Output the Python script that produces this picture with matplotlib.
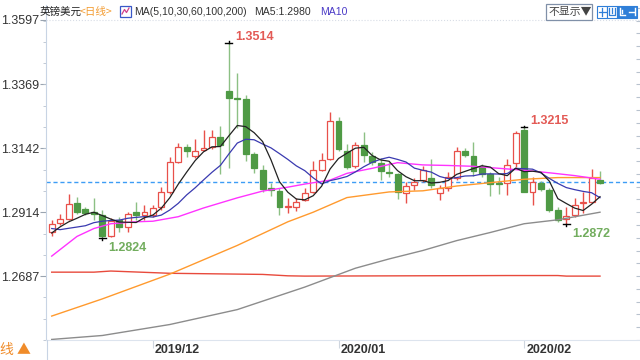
import pandas as pd
import matplotlib
matplotlib.use('Agg')
import matplotlib.pyplot as plt
from matplotlib.patches import Rectangle
from matplotlib.lines import Line2D

plt.rcParams['font.family'] = ['Liberation Sans', 'Noto Sans CJK SC', 'DejaVu Sans']

# GBP/USD daily candles, 2019-11-14 .. 2020-02-14 (no candle on 1 Jan)
dates = pd.bdate_range('2019-11-14', '2020-02-14').drop(pd.Timestamp('2020-01-01'))

opens = [1.2842, 1.2877, 1.2891, 1.2947, 1.2926, 1.2916, 1.2905, 1.2829, 1.2885, 1.2862,
         1.2913, 1.2905, 1.2904, 1.2933, 1.2987, 1.3093, 1.3145, 1.3113, 1.3135, 1.3147,
         1.3182, 1.3346, 1.3320, 1.3315, 1.3119, 1.3065, 1.2999, 1.2988, 1.2931, 1.2934,
         1.2957, 1.2987, 1.3063, 1.3104, 1.3239, 1.3133, 1.3077, 1.3152, 1.3112, 1.3089,
         1.3054, 1.3049, 1.2983, 1.3009, 1.3028, 1.3034, 1.2983, 1.2999, 1.3034, 1.3131,
         1.3112, 1.3075, 1.3049, 1.3016, 1.3016, 1.3089, 1.3205, 1.2987, 1.3018, 1.2993,
         1.2922, 1.2890, 1.2905, 1.2946, 1.2952, 1.3030]
highs = [1.2885, 1.2907, 1.2978, 1.2968, 1.2933, 1.2965, 1.2922, 1.2893, 1.2898, 1.2915,
         1.2950, 1.2939, 1.2940, 1.3003, 1.3110, 1.3159, 1.3157, 1.3173, 1.3206, 1.3206,
         1.3222, 1.3514, 1.3407, 1.3330, 1.3127, 1.3080, 1.3019, 1.2999, 1.2966, 1.2964,
         1.2999, 1.3097, 1.3125, 1.3270, 1.3253, 1.3158, 1.3163, 1.3199, 1.3127, 1.3106,
         1.3092, 1.3052, 1.3023, 1.3034, 1.3077, 1.3104, 1.3010, 1.3056, 1.3146, 1.3143,
         1.3162, 1.3086, 1.3057, 1.3040, 1.3102, 1.3203, 1.3215, 1.3039, 1.3025, 1.3000,
         1.2934, 1.2934, 1.2963, 1.2986, 1.3066, 1.3059]
lows = [1.2829, 1.2867, 1.2885, 1.2909, 1.2905, 1.2887, 1.2824, 1.2826, 1.2842, 1.2842,
        1.2887, 1.2887, 1.2897, 1.2922, 1.2980, 1.3088, 1.3110, 1.3107, 1.3132, 1.3140,
        1.3049, 1.3070, 1.3214, 1.3096, 1.3054, 1.2986, 1.2971, 1.2905, 1.2910, 1.2917,
        1.2955, 1.2981, 1.3059, 1.3098, 1.3133, 1.3066, 1.3070, 1.3092, 1.3080, 1.3029,
        1.3040, 1.2961, 1.2948, 1.2993, 1.3021, 1.2999, 1.2957, 1.2991, 1.3030, 1.3109,
        1.3042, 1.3040, 1.2970, 1.2980, 1.2975, 1.3075, 1.2985, 1.2941, 1.2990, 1.2913,
        1.2880, 1.2872, 1.2896, 1.2912, 1.2946, 1.3015]
closes = [1.2873, 1.2890, 1.2943, 1.2915, 1.2912, 1.2909, 1.2831, 1.2881, 1.2862, 1.2908,
          1.2905, 1.2916, 1.2929, 1.2985, 1.3092, 1.3145, 1.3131, 1.3133, 1.3142, 1.3180,
          1.3151, 1.3320, 1.3317, 1.3122, 1.3072, 1.2995, 1.2992, 1.2931, 1.2934, 1.2952,
          1.2981, 1.3065, 1.3100, 1.3239, 1.3139, 1.3075, 1.3154, 1.3116, 1.3092, 1.3061,
          1.3052, 1.2987, 1.3008, 1.3021, 1.3063, 1.3010, 1.2999, 1.3039, 1.3131, 1.3116,
          1.3061, 1.3049, 1.3014, 1.3014, 1.3081, 1.3194, 1.2987, 1.3022, 1.2995, 1.2922,
          1.2885, 1.2901, 1.2940, 1.2952, 1.3034, 1.3018]

# closes before the first shown candle (needed for MA5 / MA10)
pre_close = [1.2930, 1.2895, 1.2870, 1.2865, 1.2800, 1.2780, 1.2855, 1.2850, 1.2842]

# longer averages at some candles
ma30_idx = [0, 3, 5, 7, 10, 12, 15, 18, 20, 22, 25, 28, 30, 33, 35, 38, 41, 44, 47, 50, 53, 56, 59, 62, 65]
ma30_val = [1.2758, 1.2828, 1.2856, 1.2873, 1.2880, 1.2882, 1.2898, 1.2929, 1.2947, 1.2965,
            1.2989, 1.3003, 1.3014, 1.3028, 1.3052, 1.3070, 1.3090, 1.3082, 1.3080, 1.3077,
            1.3070, 1.3063, 1.3054, 1.3044, 1.3031]
ma60_idx = [0, 6, 14, 22, 28, 31, 35, 40, 44, 48, 52, 56, 60, 65]
ma60_val = [1.2545, 1.2606, 1.2694, 1.2796, 1.2880, 1.2914, 1.2966, 1.2986, 1.2990, 1.3007,
            1.3019, 1.3031, 1.3037, 1.3037]
ma100_idx = [0, 6, 14, 22, 30, 36, 40, 44, 48, 52, 56, 60, 65]
ma100_val = [1.2462, 1.2476, 1.2515, 1.2568, 1.2648, 1.2715, 1.2748, 1.2778, 1.2813, 1.2842,
             1.2873, 1.2887, 1.2914]
ma200_idx = [0, 5, 7, 14, 25, 28, 30, 54, 60, 61, 65]
ma200_val = [1.2701, 1.2701, 1.2705, 1.2697, 1.2693, 1.2688, 1.2687, 1.2689, 1.2689, 1.2687, 1.2687]

y_ticks = [1.2687, 1.2914, 1.3142, 1.3369, 1.3597]
last_price = 1.3020
marks_high = [1.3514, 1.3215]
marks_low = [1.2824, 1.2872]

RED = '#e8504a'
GREEN = '#4f9a45'
GREEN_WICK = '#8cc084'
TXT = '#333333'

fig = plt.figure(figsize=(6.4, 3.6), dpi=100)


def fx(px):
    return px / 640


def fy(py):
    return 1 - py / 360


ax = fig.add_axes([fx(46), fy(340), 594 / 640, 335 / 360])
ax.set_xlim(-0.676, 69.74)
ax.set_ylim(1.24626, 1.36501)

# candles
for i in range(len(closes)):
    o, h, l, c = opens[i], highs[i], lows[i], closes[i]
    up = c >= o
    ax.vlines(i, l, h, color=RED if up else GREEN_WICK, lw=1, zorder=2)
    bot = min(o, c)
    ht = max(abs(c - o), 0.00035)
    ax.add_patch(Rectangle((i - 0.35, bot), 0.7, ht,
                           facecolor='white' if up else GREEN,
                           edgecolor=RED if up else GREEN, lw=0.9, zorder=3))

# moving averages
s = pd.Series(pre_close + closes)
ma5 = s.rolling(5).mean().iloc[len(pre_close):].values
ma10 = s.rolling(10).mean().iloc[len(pre_close):].values
idx = list(range(len(closes)))
ax.plot(ma200_idx, ma200_val, color='#e84a3c', lw=1, zorder=4)
ax.plot(ma100_idx, ma100_val, color='#8c8c8c', lw=1, zorder=4)
ax.plot(ma60_idx, ma60_val, color='#ff9a2e', lw=1, zorder=4)
ax.plot(ma30_idx, ma30_val, color='#ff33ff', lw=1, zorder=4)
ax.plot(idx, ma10, color='#3a3ab0', lw=0.9, zorder=5)
ax.plot(idx, ma5, color='#222222', lw=0.9, zorder=5)

ax.axhline(last_price, color='#3d9df5', ls=(0, (3, 2)), lw=1, zorder=1)
ax.axhline(y_ticks[-1], color='#d8dde6', ls=':', lw=0.8, zorder=0)

# high / low markers
for v in marks_high:
    i = highs.index(v)
    ax.plot([i - 0.4, i + 0.4], [v, v], color='k', lw=1, zorder=6)
    ax.plot([i, i], [v, v + 0.0007], color='k', lw=1, zorder=6)
    ax.annotate(f'{v:.4f}', xy=(i, v), xytext=(6, 6), textcoords='offset pixels',
                ha='left', va='center', color='#e35a55', fontsize=9, fontweight='bold')
for v in marks_low:
    i = lows.index(v)
    ax.plot([i - 0.4, i + 0.4], [v, v], color='k', lw=1, zorder=6)
    ax.plot([i, i], [v, v - 0.0007], color='k', lw=1, zorder=6)
    ax.annotate(f'{v:.4f}', xy=(i, v), xytext=(6, -10), textcoords='offset pixels',
                ha='left', va='center', color='#72ad5e', fontsize=9, fontweight='bold')

# axes styling
for side in ['top', 'right']:
    ax.spines[side].set_visible(False)
ax.spines['left'].set_color('#c8d4e4')
ax.spines['bottom'].set_color('#dde4ee')
ax.set_yticks(y_ticks)
ax.set_yticklabels([f'{v:.4f}' for v in y_ticks])
step = (y_ticks[1] - y_ticks[0]) / 3
ax.set_yticks([y_ticks[0] + k * step for k in range(-3, 13)], minor=True)
ax.tick_params(axis='y', which='major', length=4, color='#9aa4b0', labelsize=9,
               labelcolor=TXT, pad=1)
ax.tick_params(axis='y', which='minor', length=2.5, color='#b8c2ce')

month_pos = [i for i in range(1, len(dates)) if dates[i].month != dates[i - 1].month]
ax.set_xticks(month_pos)
ax.set_xticklabels([])
ax.tick_params(axis='x', length=6, color='#cfd6df')
for p in month_pos:
    ax.text(p + 0.25, -0.03, dates[p].strftime('%Y/%m'), transform=ax.get_xaxis_transform(),
            ha='left', va='center', fontsize=9, fontweight='bold', color=TXT)

# right edge ticks
rstep = (y_ticks[1] - y_ticks[0]) / 5
ax.hlines([y_ticks[0] + k * rstep for k in range(-5, 26)], 0.993, 1.0,
          transform=ax.get_yaxis_transform(), color='#b8c2ce', lw=0.8)

fig.add_artist(Line2D([fx(46.5)] * 2, [0, fy(340)], color='#c8d4e4', lw=0.8))

# header
cjk = ['Noto Sans CJK SC', 'DejaVu Sans']
hy = fy(12)
fig.text(fx(40), hy, '英镑美元', family=cjk, fontsize=7.6, color='#222', va='center')
fig.text(fx(80), hy, '<日线>', family=cjk, fontsize=7.6, color='#f39c32', va='center')
fig.add_artist(Rectangle((fx(120), fy(17)), 11 / 640, 11 / 360, transform=fig.transFigure,
                         facecolor='white', edgecolor='#3a58c8', lw=0.9))
fig.add_artist(Line2D([fx(122), fx(124.5), fx(126.5), fx(129)], [fy(14), fy(9.5), fy(12.5), fy(8)],
                      color='#d0408a', lw=0.9))
fig.text(fx(134), hy, 'MA(5,10,30,60,100,200)', fontsize=7.6, color=TXT, va='center')
fig.text(fx(254), hy, 'MA5:1.2980', fontsize=7.6, color=TXT, va='center')
fig.text(fx(320), hy, 'MA10', fontsize=7.6, color='#4b3bc7', va='center')

fig.add_artist(Rectangle((fx(546), fy(20)), 46 / 640, 16 / 360, transform=fig.transFigure,
                         facecolor='white', edgecolor='#8090a8', lw=0.9))
fig.text(fx(549), hy, '不显示▼', family=cjk, fontsize=7.8, color='#444', va='center')
blue = '#2f7fd8'
for k, x0 in enumerate([597, 607, 617, 627]):
    fig.add_artist(Rectangle((fx(x0), fy(17.5)), 10 / 640, 12 / 360, transform=fig.transFigure,
                             facecolor=blue if k >= 2 else 'white', edgecolor=blue, lw=0.8))
fig.add_artist(Line2D([fx(602), fx(602)], [fy(7.5), fy(15.5)], color=blue, lw=0.9))
fig.add_artist(Line2D([fx(598.5), fx(605.5)], [fy(11.5), fy(11.5)], color=blue, lw=0.9))
fig.add_artist(Line2D([fx(609), fx(609), fx(615), fx(615)], [fy(8), fy(15), fy(15), fy(8)],
                      color=blue, lw=0.9))
fig.add_artist(Line2D([fx(612), fx(612)], [fy(8), fy(13)], color=blue, lw=0.9))
fig.add_artist(Line2D([fx(619.5), fx(619.5), fx(625)], [fy(8), fy(15), fy(15)], color='white', lw=1))
fig.add_artist(Line2D([fx(622), fx(622)], [fy(10), fy(13)], color='white', lw=1))
fig.add_artist(Line2D([fx(629), fx(634)], [fy(11.5), fy(11.5)], color='white', lw=1))
fig.add_artist(Line2D([fx(635), fx(635)], [fy(8), fy(15)], color='white', lw=1))

fig.text(fx(0), fy(350), '线 ▲', family=cjk, fontsize=10, color='#f08c2a', va='center')

fig.savefig('out.png', dpi=100)
